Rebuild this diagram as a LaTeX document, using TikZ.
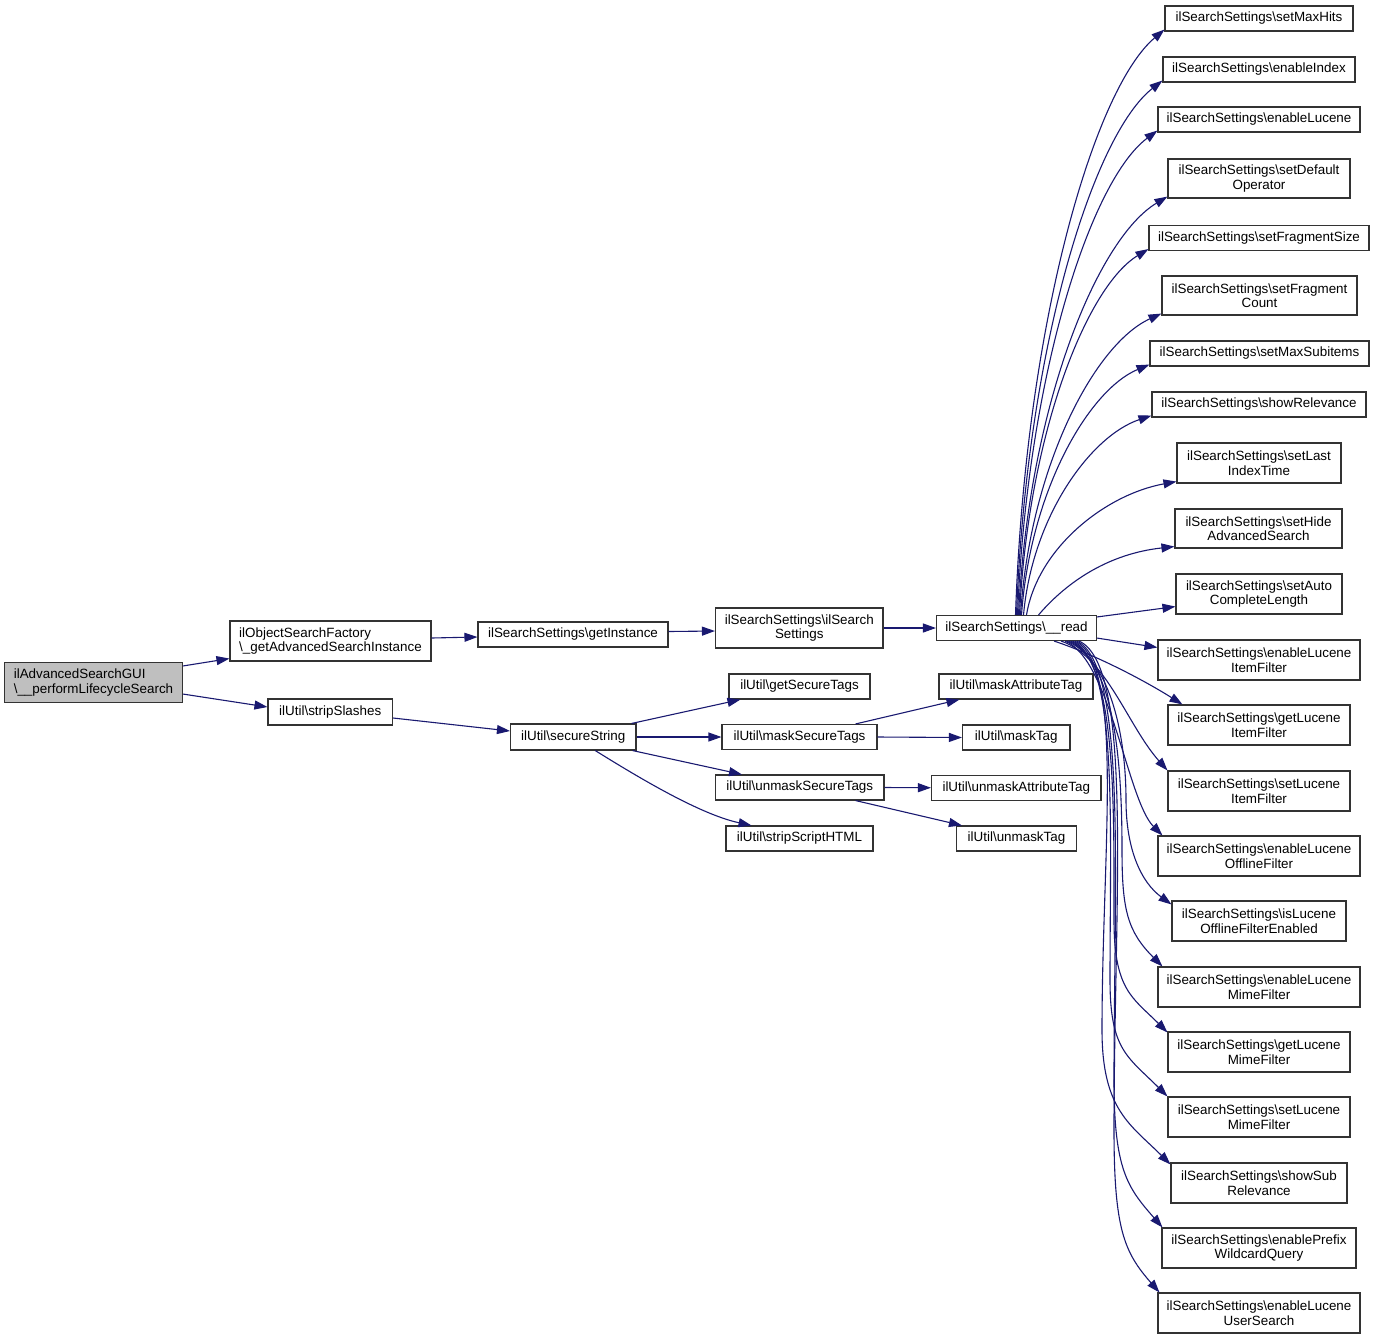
\documentclass[tikz,border=0pt]{standalone}
\usepackage{fontspec}
\setmainfont{Liberation Sans}
\usetikzlibrary{arrows.meta,calc}
\newcommand{\bsl}{\textbackslash}
\definecolor{edgec}{HTML}{191970}
\definecolor{boxc}{HTML}{333333}
\definecolor{hl}{HTML}{BFBFBF}
\begin{document}
\begin{tikzpicture}[x=1pt,y=-1pt,
 box/.style={draw=boxc, line width=1.1pt, fill=white, inner sep=0pt, align=center,
   font=\fontsize{13.4}{14.5}\selectfont, minimum height=25pt},
 two/.style={minimum height=40pt},
 lnk/.style={draw=edgec, line width=1.1pt, -{Triangle[length=13pt,width=9pt]}},
]
\useasboundingbox (0,0) rectangle (1375,1339);

% left part
\node[box, two, fill=hl, align=left, minimum width=178pt] (A) at (93.5,682.5) {ilAdvancedSearchGUI\\\bsl\_\_performLifecycleSearch};
\node[box, two, align=left, minimum width=201pt] (B) at (330.5,641) {ilObjectSearchFactory\\\bsl\_getAdvancedSearchInstance};
\node[box, minimum width=124.5pt, minimum height=26pt] (C) at (330.25,712) {ilUtil\bsl stripSlashes};
\node[box, minimum width=190pt] (D) at (573,634.5) {ilSearchSettings\bsl getInstance};
\node[box, two, minimum width=167.5pt] (E) at (799.25,628) {ilSearchSettings\bsl ilSearch\\Settings};
\node[box, minimum width=160pt] (F) at (1016.5,628) {ilSearchSettings\bsl\_\_read};
\node[box, minimum width=125.5pt, minimum height=26pt] (G) at (573.25,737) {ilUtil\bsl secureString};
\node[box, minimum width=141pt] (H) at (799.5,686.5) {ilUtil\bsl getSecureTags};
\node[box, minimum width=155pt] (I) at (799.5,737) {ilUtil\bsl maskSecureTags};
\node[box, minimum width=168.5pt] (J) at (799.75,787.5) {ilUtil\bsl unmaskSecureTags};
\node[box, minimum width=147pt] (K) at (799.5,838.5) {ilUtil\bsl stripScriptHTML};
\node[box, minimum width=154pt] (L) at (1016,686.5) {ilUtil\bsl maskAttributeTag};
\node[box, minimum width=107.5pt] (M) at (1016.25,737.5) {ilUtil\bsl maskTag};
\node[box, minimum width=169.5pt] (N) at (1016.25,787.75) {ilUtil\bsl unmaskAttributeTag};
\node[box, minimum width=120pt] (O) at (1016.5,838.5) {ilUtil\bsl unmaskTag};

% right column
\node[box, minimum width=188pt] (R1) at (1259,18.5) {ilSearchSettings\bsl setMaxHits};
\node[box, minimum width=192pt] (R2) at (1259,69.5) {ilSearchSettings\bsl enableIndex};
\node[box, minimum width=202pt] (R3) at (1259,119.5) {ilSearchSettings\bsl enableLucene};
\node[box, two, minimum width=182pt, minimum height=39pt] (R4) at (1259,178.5) {ilSearchSettings\bsl setDefault\\Operator};
\node[box, minimum width=220pt] (R5) at (1259,238) {ilSearchSettings\bsl setFragmentSize};
\node[box, two, minimum width=195pt, minimum height=39pt] (R6) at (1259.5,295.5) {ilSearchSettings\bsl setFragment\\Count};
\node[box, minimum width=219pt] (R7) at (1259.5,353.5) {ilSearchSettings\bsl setMaxSubitems};
\node[box, minimum width=214pt] (R8) at (1259,404.5) {ilSearchSettings\bsl showRelevance};
\node[box, two, minimum width=164pt] (R9) at (1259,463) {ilSearchSettings\bsl setLast\\IndexTime};
\node[box, two, minimum width=167pt, minimum height=39pt] (R10) at (1258.5,528.5) {ilSearchSettings\bsl setHide\\AdvancedSearch};
\node[box, two, minimum width=166pt] (R11) at (1259,594) {ilSearchSettings\bsl setAuto\\CompleteLength};
\node[box, two, minimum width=202pt] (R12) at (1259,660) {ilSearchSettings\bsl enableLucene\\ItemFilter};
\node[box, two, minimum width=182pt] (R13) at (1259,725) {ilSearchSettings\bsl getLucene\\ItemFilter};
\node[box, two, minimum width=182pt] (R14) at (1259,791) {ilSearchSettings\bsl setLucene\\ItemFilter};
\node[box, two, minimum width=202pt] (R15) at (1259,856) {ilSearchSettings\bsl enableLucene\\OfflineFilter};
\node[box, two, minimum width=174pt] (R16) at (1259,921) {ilSearchSettings\bsl isLucene\\OfflineFilterEnabled};
\node[box, two, minimum width=202pt] (R17) at (1259,987) {ilSearchSettings\bsl enableLucene\\MimeFilter};
\node[box, two, minimum width=182pt] (R18) at (1259,1052) {ilSearchSettings\bsl getLucene\\MimeFilter};
\node[box, two, minimum width=182pt] (R19) at (1259,1117) {ilSearchSettings\bsl setLucene\\MimeFilter};
\node[box, two, minimum width=176pt] (R20) at (1259,1183) {ilSearchSettings\bsl showSub\\Relevance};
\node[box, two, minimum width=194pt] (R21) at (1259,1248) {ilSearchSettings\bsl enablePrefix\\WildcardQuery};
\node[box, two, minimum width=202pt] (R22) at (1259,1313) {ilSearchSettings\bsl enableLucene\\UserSearch};

% left edges
\draw[lnk] ([yshift=-4pt]A.north east) -- ([yshift=3pt]B.south west);
\draw[lnk] ([yshift=9pt]A.south east) -- ([yshift=5pt]C.west);
\draw[lnk] ([yshift=3pt]B.east) -- ([yshift=-2.5pt]D.west);
\draw[lnk] ([yshift=3pt]D.east) -- ([yshift=-3pt]E.west);
\draw[lnk] (E.east) -- (F.west);
\draw[lnk] ([yshift=-6pt]C.east) -- ([yshift=6pt]G.west);
\draw[lnk] ([xshift=-5pt]G.north east) -- ([xshift=12pt]H.south west);
\draw[lnk] (G.east) -- (I.west);
\draw[lnk] ([xshift=-4pt]G.south east) -- ([xshift=27pt]J.north west);
\draw[lnk] ([xshift=22pt]G.south) .. controls +(45,28) and +(-51,-11) .. ([xshift=-48pt]K.north);
\draw[lnk] ([xshift=-22pt]I.north east) -- ([xshift=21pt]L.south west);
\draw[lnk] (I.east) -- (M.west);
\draw[lnk] (J.east) -- (N.west);
\draw[lnk] ([xshift=-29pt]J.south east) -- ([xshift=6pt]O.north west);

% upper fan
\draw[lnk] ([xshift=-1pt]F.north) .. controls +(10,-293) and +(-70,59) .. ([yshift=2pt]R1.south west);
\draw[lnk] ([xshift=0pt]F.north) .. controls +(10,-268) and +(-69,54) .. ([yshift=2pt]R2.south west);
\draw[lnk] ([xshift=1pt]F.north) .. controls +(10,-243) and +(-66,49) .. ([yshift=2pt]R3.south west);
\draw[lnk] ([xshift=2pt]F.north) .. controls +(10,-210) and +(-70,42) .. ([yshift=2pt]R4.south west);
\draw[lnk] ([xshift=3pt]F.north) .. controls +(9,-184) and +(-61,37) .. ([yshift=2pt]R5.south west);
\draw[lnk] ([xshift=4pt]F.north) .. controls +(10,-151) and +(-66,30) .. ([yshift=2pt]R6.south west);
\draw[lnk] ([xshift=5pt]F.north) .. controls +(9,-126) and +(-60,25) .. ([yshift=2pt]R7.south west);
\draw[lnk] ([xshift=7pt]F.north) .. controls +(9,-100) and +(-60,20) .. ([yshift=2pt]R8.south west);
\draw[lnk] ([xshift=10pt]F.north) .. controls +(11,-67) and +(-71,13) .. ([yshift=2pt]R9.south west);
\draw[lnk] ([xshift=22pt]F.north) .. controls +(30,-35) and +(-64,7) .. ([yshift=2pt]R10.south west);
\draw[lnk] ([yshift=-2pt]F.north east) -- ([yshift=8pt]R11.south west);
\draw[lnk] ([yshift=3pt]F.south east) -- ([yshift=-8pt]R12.north west);

% lower fan
\draw[lnk] ([xshift=-43pt]F.south east) .. controls +(45,15) and +(-35,-22) .. ([xshift=15pt]R13.north west);
\draw[lnk] ([xshift=-36pt]F.south east) .. controls +(45,15) and +(-40,-45) .. (R14.north west);
\draw[lnk] ([xshift=-32pt]F.south east) .. controls +(45,18) and +(-35,-35) .. ([xshift=5pt]R15.north west);
\draw[lnk] ([xshift=-30pt]F.south east) .. controls +(45,20) and (1126,740) .. (1126,800)
   .. controls (1126,850) and +(-30,-22) .. ([yshift=-4pt]R16.north west);
\draw[lnk] ([xshift=-28pt]F.south east) .. controls +(45,20) and (1122,760) .. (1122,850)
   .. controls (1122,910) and +(-35,-35) .. ([xshift=5pt]R17.north west);
\draw[lnk] ([xshift=-26pt]F.south east) .. controls +(45,20) and (1114,800) .. (1114,920)
   .. controls (1114,990) and +(-35,-35) .. ([yshift=-1pt]R18.north west);
\draw[lnk] ([xshift=-24pt]F.south east) .. controls +(45,22) and (1110,820) .. (1110,980)
   .. controls (1110,1050) and +(-40,-40) .. (R19.north west);
\draw[lnk] ([xshift=-22pt]F.south east) .. controls +(50,25) and (1102,850) .. (1102,1030)
   .. controls (1102,1110) and +(-40,-40) .. ([yshift=-2pt]R20.north west);
\draw[lnk] ([xshift=-20pt]F.south east) .. controls +(50,25) and (1114,880) .. (1114,1080)
   .. controls (1114,1170) and +(-35,-40) .. ([xshift=1pt]R21.north west);
\draw[lnk] ([xshift=-18pt]F.south east) .. controls +(55,25) and (1114,900) .. (1114,1130)
   .. controls (1114,1230) and +(-35,-40) .. ([xshift=2pt]R22.north west);
\end{tikzpicture}
\end{document}
